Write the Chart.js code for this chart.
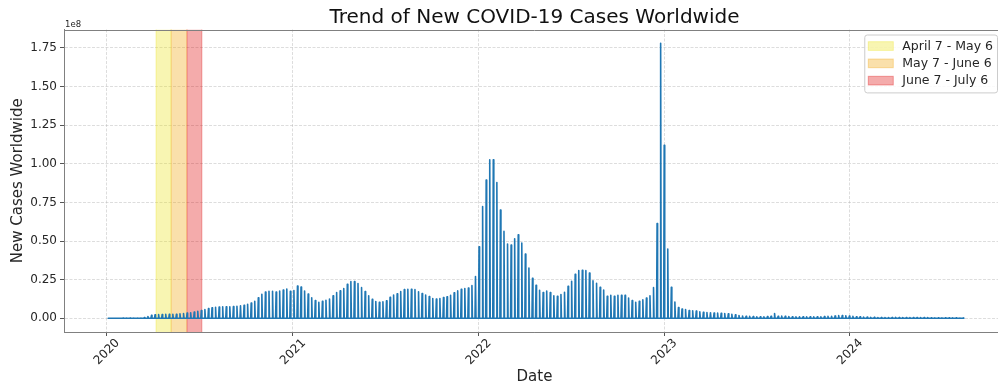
<!DOCTYPE html>
<html>
<head>
<meta charset="utf-8">
<title>Trend of New COVID-19 Cases Worldwide</title>
<script src="https://cdn.jsdelivr.net/npm/chart.js@4.4.1/dist/chart.umd.min.js"></script>
<style>
  html, body { margin: 0; padding: 0; background: #fff; overflow: hidden; }
  #wrap { width: 998px; height: 389px; overflow: hidden; }
</style>
</head>
<body>
<div id="wrap"><canvas id="covidChart" width="1010" height="389"></canvas></div>
<script>
// weekly reporting dates start here, one value every 7 days
var firstWeek = "2020-01-05";

// new cases per week, in millions
var cases2020 = [0, 0, 0, 0.02, 0.06, 0.1, 0.1, 0.1, 0.05, 0.15,
    0.4, 1.1, 1.9, 2.3, 2.4, 2.4, 2.5, 2.5, 2.6, 2.6,
    2.8, 3.0, 3.3, 3.6, 4.0, 4.5, 5.0, 5.6, 6.2, 6.8,
    7.1, 7.3, 7.4, 7.4, 7.4, 7.5, 7.7, 8.0, 8.4, 9.0,
    9.9, 11.0, 13.3, 15.5, 17.0, 17.4, 17.4, 17.0, 17.6, 18.3,
    18.9, 17.4];
var cases2021 = [17.9, 20.9, 20.2, 17.6, 15.7, 13.2, 11.5, 10.4, 10.9, 11.6,
    12.5, 14.5, 16.6, 17.7, 19.2, 22.0, 23.7, 23.7, 22.5, 19.8,
    17.3, 14.6, 12.2, 10.8, 10.4, 10.6, 11.3, 13.5, 15.0, 15.8,
    17.3, 18.5, 18.8, 18.8, 18.5, 17.2, 16.0, 15.0, 14.0, 12.8,
    12.4, 12.7, 13.4, 13.9, 14.8, 16.5, 17.7, 18.8, 19.3, 19.5,
    21.1, 27.0];
var cases2022 = [46.3, 72.3, 89.5, 102.6, 102.6, 87.8, 70.0, 56.2, 48.1, 47.3,
    51.4, 54.0, 48.7, 41.5, 32.5, 25.8, 21.4, 18.1, 16.6, 17.6,
    16.6, 14.6, 14.2, 15.3, 16.8, 20.7, 23.9, 28.4, 30.8, 31.0,
    30.8, 29.3, 24.3, 22.6, 20.0, 18.3, 14.2, 14.8, 14.2, 14.8,
    14.8, 14.8, 13.1, 11.4, 10.3, 11.0, 12.0, 13.1, 14.6, 19.8,
    61.3, 178.0];
var cases2023 = [112.0, 44.8, 20.0, 10.5, 6.9, 6.0, 5.6, 5.0, 4.8, 4.6,
    4.1, 3.9, 3.7, 3.6, 3.4, 3.3, 3.2, 3.0, 2.9, 2.6,
    2.2, 1.8, 1.5, 1.3, 1.2, 1.1, 1.0, 1.0, 1.0, 1.1,
    1.3, 3.0, 1.3, 1.4, 1.3, 1.1, 1.0, 0.9, 0.9, 0.9,
    0.9, 0.9, 0.9, 1.0, 1.0, 1.1, 1.2, 1.3, 1.5, 1.7,
    1.7, 1.6, 1.4];
var cases2024 = [1.2, 1.0, 0.9, 0.8, 0.7, 0.6, 0.6, 0.5, 0.5, 0.5,
    0.5, 0.5, 0.6, 0.5, 0.5, 0.4, 0.4, 0.4, 0.4, 0.4,
    0.4, 0.4, 0.3, 0.3, 0.3, 0.3, 0.3, 0.3, 0.3, 0.3,
    0.2, 0.2];

// highlighted periods
var spanLabels = ["April 7 - May 6", "May 7 - June 6", "June 7 - July 6"];
var spanStarts = ["2020-04-07", "2020-05-07", "2020-06-07"];
var spanEnds = ["2020-05-06", "2020-06-06", "2020-07-06"];
var spanColors = ["rgba(235,225,20,0.33)", "rgba(240,160,0,0.33)", "rgba(222,0,0,0.33)"];

// axis ticks
var yearTicks = [2020, 2021, 2022, 2023, 2024];
var yTickValues = [0, 25, 50, 75, 100, 125, 150, 175]; // millions
var xMin = "2019-10-09";
var xMax = "2024-11-01";

var DAY = 86400000;
var weekly = cases2020.concat(cases2021, cases2022, cases2023, cases2024);
var t0 = Date.parse(firstWeek);

// the source is a daily series with one report per week, so each week is a spike
var points = [];
weekly.forEach(function (v, i) {
    var t = t0 + i * 7 * DAY;
    points.push({ x: t - DAY, y: 0 }, { x: t, y: v }, { x: t + DAY, y: 0 });
});

Chart.defaults.font.family = "'DejaVu Sans', sans-serif";
var textColor = "#262626";
var gridColor = "rgba(176,176,176,0.55)";
var spineColor = "#808080";

var extras = {
    id: "extras",
    beforeDatasetsDraw: function (chart) {
        var ctx = chart.ctx, a = chart.chartArea, x = chart.scales.x;
        ctx.save();
        ctx.beginPath();
        ctx.rect(a.left, a.top, a.right - a.left, a.bottom - a.top);
        ctx.clip();
        spanStarts.forEach(function (s, i) {
            var x0 = x.getPixelForValue(Date.parse(s));
            var x1 = x.getPixelForValue(Date.parse(spanEnds[i]));
            ctx.fillStyle = spanColors[i];
            ctx.fillRect(x0, a.top, x1 - x0, a.bottom - a.top);
            ctx.strokeStyle = spanColors[i];
            ctx.lineWidth = 1;
            ctx.strokeRect(x0, a.top - 2, x1 - x0, a.bottom - a.top + 4);
        });
        ctx.restore();
    },
    afterDraw: function (chart) {
        var ctx = chart.ctx, a = chart.chartArea;
        ctx.save();
        // top spine
        ctx.strokeStyle = spineColor;
        ctx.lineWidth = 1;
        ctx.beginPath();
        ctx.moveTo(a.left, Math.round(a.top) + 0.5);
        ctx.lineTo(a.right, Math.round(a.top) + 0.5);
        ctx.stroke();

        // offset text
        ctx.fillStyle = textColor;
        ctx.font = "8.5px 'DejaVu Sans'";
        ctx.textAlign = "left";
        ctx.textBaseline = "alphabetic";
        ctx.fillText("1e8", a.left + 1, a.top - 3);

        // legend
        ctx.font = "12.5px 'DejaVu Sans'";
        var textW = 0;
        spanLabels.forEach(function (l) { textW = Math.max(textW, ctx.measureText(l).width); });
        var rowH = 17.3;
        var w = 4 + 25 + 9 + textW + 4;
        var h = rowH * spanLabels.length + 6;
        var right = a.right - 8, top = a.top + 5, left = right - w;
        ctx.fillStyle = "rgba(255,255,255,0.85)";
        ctx.strokeStyle = "#cccccc";
        ctx.beginPath();
        ctx.roundRect(left + 0.5, top + 0.5, w, h, 2.5);
        ctx.fill();
        ctx.stroke();
        ctx.textBaseline = "middle";
        spanLabels.forEach(function (l, i) {
            var cy = top + 11.5 + i * rowH;
            ctx.fillStyle = spanColors[i];
            ctx.fillRect(left + 4, cy - 4.3, 25, 8.7);
            ctx.strokeStyle = spanColors[i];
            ctx.strokeRect(left + 4, cy - 4.3, 25, 8.7);
            ctx.fillStyle = textColor;
            ctx.fillText(l, left + 38, cy + 0.5);
        });
        ctx.restore();
    }
};

var ctx = document.getElementById("covidChart").getContext("2d");
var covidChart = new Chart(ctx, {
    type: "line",
    data: {
        datasets: [{
            label: "New Cases",
            data: points,
            borderColor: "#1f77b4",
            borderWidth: 1.6,
            borderJoinStyle: "round",
            borderCapStyle: "round",
            pointRadius: 0,
            tension: 0,
            fill: false
        }]
    },
    options: {
        responsive: false,
        animation: false,
        layout: { padding: { left: 0, right: 5, top: 0, bottom: 0 } },
        plugins: {
            legend: { display: false },
            tooltip: { enabled: false },
            title: {
                display: true,
                text: "Trend of New COVID-19 Cases Worldwide",
                fullSize: false,
                color: "#111",
                font: { size: 20, weight: "normal" },
                padding: { top: 5.5, bottom: 0 }
            }
        },
        scales: {
            x: {
                type: "linear",
                min: Date.parse(xMin),
                max: Date.parse(xMax),
                afterBuildTicks: function (scale) {
                    scale.ticks = yearTicks.map(function (y) { return { value: Date.UTC(y, 0, 1) }; });
                },
                afterFit: function (scale) { scale.height = 57; },
                ticks: {
                    color: textColor,
                    font: { size: 12 },
                    minRotation: 45,
                    maxRotation: 45,
                    labelOffset: 11,
                    padding: 0,
                    autoSkip: false,
                    callback: function (value) { return String(new Date(value).getUTCFullYear()); }
                },
                grid: { color: gridColor, lineWidth: 0.8, tickColor: "#555", tickLength: 4, tickWidth: 1 },
                border: { color: spineColor, width: 1, dash: [3, 1.5] },
                title: { display: true, text: "Date", color: textColor, font: { size: 15 }, padding: { top: 0, bottom: 3 } }
            },
            y: {
                min: -8.9,
                max: 186.9,
                afterBuildTicks: function (scale) {
                    scale.ticks = yTickValues.map(function (v) { return { value: v }; });
                },
                afterFit: function (scale) { scale.width = 64; },
                ticks: {
                    color: textColor,
                    font: { size: 12 },
                    padding: 3,
                    callback: function (value) { return (value / 100).toFixed(2); }
                },
                grid: { color: gridColor, lineWidth: 0.8, tickColor: "#555", tickLength: 4, tickWidth: 1 },
                border: { color: spineColor, width: 1, dash: [3, 1.5] },
                title: { display: true, text: "New Cases Worldwide", color: textColor, font: { size: 15 }, padding: { top: 9.5, bottom: 0 } }
            }
        }
    },
    plugins: [extras]
});
</script>
</body>
</html>
